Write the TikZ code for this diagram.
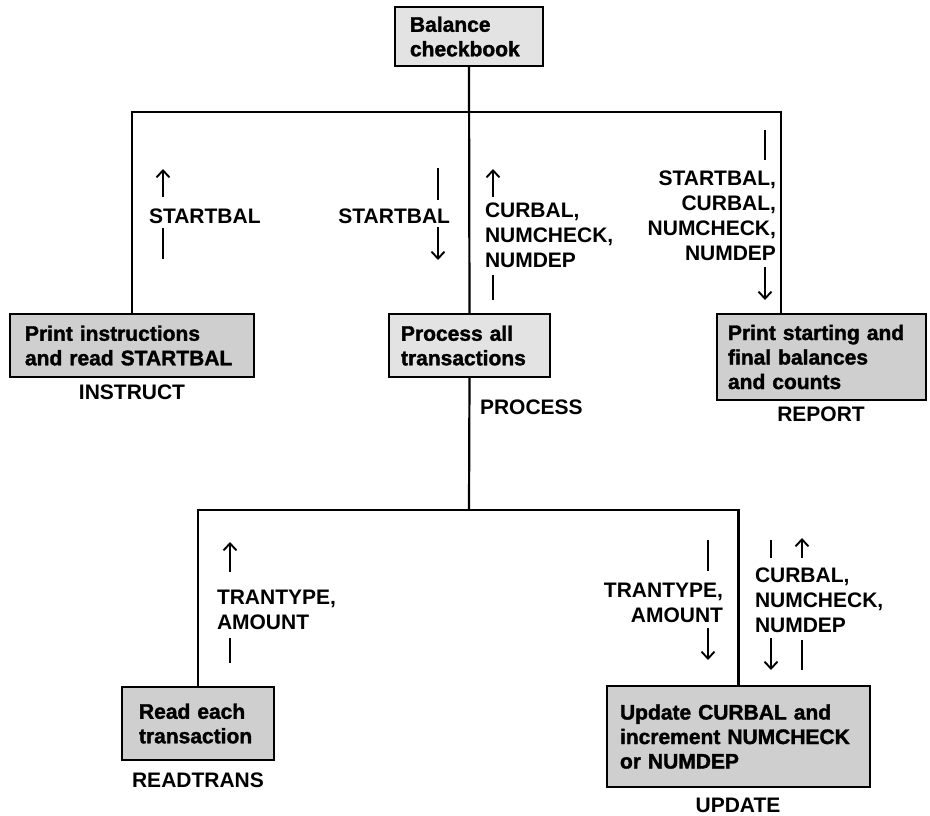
\documentclass[tikz,border=0pt]{standalone}
\usepackage{fontspec}
\setmainfont{Liberation Sans}
\newfontfamily\boxfont{Liberation Sans}[BoldFeatures={FakeBold=1.6}]
\usetikzlibrary{arrows.meta}
\begin{document}
\begin{tikzpicture}[x=1pt,y=-1pt,
  every node/.style={font=\bfseries\fontsize{21}{25}\selectfont, inner sep=0pt, outer sep=0pt},
  lightbox/.style={draw, line width=2.6pt, fill=gray!22, align=left, anchor=north west, inner ysep=0pt,
    font=\boxfont\bfseries\fontsize{21}{24.5}\selectfont},
  darkbox/.style={lightbox, fill=gray!38},
  conn/.style={line width=2.2pt},
  flow/.style={line width=1.9pt},
  flowarrow/.style={flow, -{Straight Barb[length=7pt,width=13pt,line width=1.9pt]}}
]
\useasboundingbox (0,0) rectangle (930,815);

% boxes
\node[lightbox, minimum width=148, minimum height=59, inner xsep=15, text width=118] (top) at (395,7) {Balance\\checkbook};
\node[darkbox, minimum width=244, minimum height=63, inner xsep=15, text width=214] (instr) at (10,314) {Print instructions\\and read STARTBAL};
\node[lightbox, minimum width=161, minimum height=63, inner xsep=12, text width=137] (proc) at (389,314) {Process all\\transactions};
\node[darkbox, minimum width=209, minimum height=86, inner xsep=11, text width=187] (report) at (717,314) {Print starting and\\final balances\\and counts};
\node[darkbox, minimum width=152, minimum height=73, inner xsep=17, text width=118] (readtr) at (122,687) {Read each\\transaction};
\node[darkbox, minimum width=263, minimum height=101, inner xsep=13, text width=237] (update) at (607,686) {Update CURBAL and\\increment NUMCHECK\\or NUMDEP};

% module names
\node (ninstr) at (132,392) {INSTRUCT};
\node[anchor=west] (nproc) at (480,407) {PROCESS};
\node (nreport) at (821,414) {REPORT};
\node (nreadtr) at (198,780) {READTRANS};
\node (nupdate) at (738,805) {UPDATE};

% structure lines
\coordinate (bus1) at (469,112);
\coordinate (bus2) at (469,510);
\coordinate (reporttop) at (781,314);
\draw[conn] (top.south) -- (proc.north);
\draw[conn] (instr.north) |- (bus1) -| (reporttop);
\draw[conn] (proc.south) -- (bus2);
\draw[conn] (readtr.north) |- (bus2) -| (update.north);

% data flow: INSTRUCT
\node[anchor=west] (f1) at (149,216) {STARTBAL};
\draw[flowarrow] (163,197) -- (163,169);
\draw[flow] (163,228) -- (163,259);

% data flow: PROCESS in
\node[anchor=east] (f2) at (450,216) {STARTBAL};
\draw[flow] (438,168) -- (438,200);
\draw[flowarrow] (438,227) -- (438,260);

% data flow: PROCESS out
\node[anchor=north west, align=left] (f3) at (485,203) {CURBAL,\\NUMCHECK,\\NUMDEP};
\draw[flowarrow] (493,197) -- (493,169);
\draw[flow] (493,275) -- (493,300);

% data flow: REPORT
\node[anchor=north east, align=right] (f4) at (776,171) {STARTBAL,\\CURBAL,\\NUMCHECK,\\NUMDEP};
\draw[flow] (765,130) -- (765,160);
\draw[flowarrow] (765,267) -- (765,300);

% data flow: READTRANS
\node[anchor=north west, align=left] (f5) at (217,590) {TRANTYPE,\\AMOUNT};
\draw[flowarrow] (230,572) -- (230,542);
\draw[flow] (230,638) -- (230,663);

% data flow: UPDATE in
\node[anchor=north east, align=right] (f6) at (723,583) {TRANTYPE,\\AMOUNT};
\draw[flow] (708,540) -- (708,571);
\draw[flowarrow] (708,628) -- (708,660);

% data flow: UPDATE in/out
\node[anchor=north west, align=left] (f7) at (755,568) {CURBAL,\\NUMCHECK,\\NUMDEP};
\draw[flow] (771,540) -- (771,558);
\draw[flowarrow] (802,558) -- (802,538);
\draw[flowarrow] (771,638) -- (771,670);
\draw[flow] (802,640) -- (802,670);
\end{tikzpicture}
\end{document}
